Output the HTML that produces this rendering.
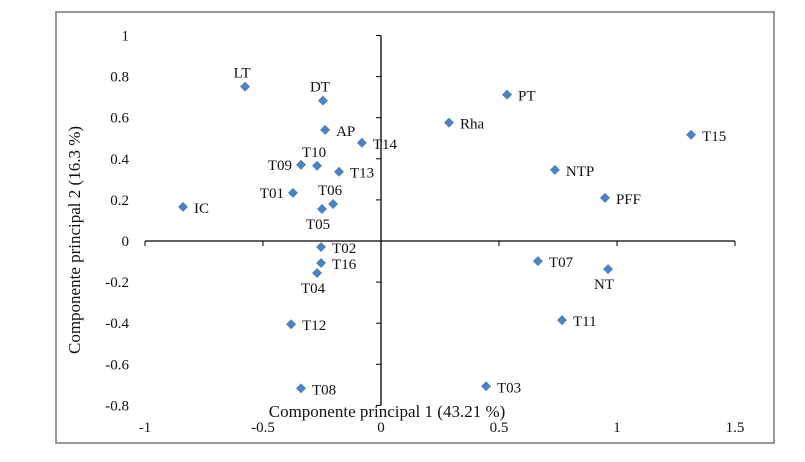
<!DOCTYPE html>
<html><head><meta charset="utf-8"><style>
body{margin:0;background:#fff;}
svg text{font-family:"Liberation Serif",serif;fill:#111;}
</style></head><body>
<svg id="chart" width="805" height="457" xmlns="http://www.w3.org/2000/svg">
<rect x="56" y="12" width="718" height="431" fill="none" stroke="#777" stroke-width="1.5"/>
<g id="axes"></g><g id="pts"></g>
<text x="387" y="417" font-size="17" text-anchor="middle">Componente principal 1 (43.21 %)</text>
<text transform="translate(80,240) rotate(-90)" font-size="17" text-anchor="middle">Componente principal  2 (16.3 %)</text>
</svg>
<script>
const labels=["LT","DT","AP","T14","PT","Rha","T15","T09","T10","T13","NTP","T01","T06","T05","IC","PFF","T02","T16","T04","T07","NT","T12","T11","T08","T03"];
const xVals=[-0.576,-0.246,-0.237,-0.081,0.534,0.288,1.314,-0.339,-0.271,-0.178,0.737,-0.373,-0.203,-0.25,-0.839,0.949,-0.254,-0.254,-0.271,0.665,0.962,-0.381,0.767,-0.339,0.445];
const yVals=[0.751,0.683,0.541,0.478,0.712,0.576,0.517,0.371,0.366,0.337,0.346,0.234,0.180,0.156,0.166,0.210,-0.029,-0.107,-0.156,-0.098,-0.137,-0.405,-0.385,-0.717,-0.707];
const labelPos=["above","above","right","right","right","right","right","left","above","right","right","left","above","below","right","right","right","right","below","right","below","right","right","right","right"];
const xTicks=[-1,-0.5,0,0.5,1,1.5];
const xTickLabels=["-1","-0.5","0","0.5","1","1.5"];
const yTicks=[1,0.8,0.6,0.4,0.2,0,-0.2,-0.4,-0.6,-0.8];
const yTickLabels=["1","0.8","0.6","0.4","0.2","0","-0.2","-0.4","-0.6","-0.8"];
const NS="http://www.w3.org/2000/svg";
const sx=v=>381+v*236, sy=v=>241-v*205.5;
const axes=document.getElementById('axes'), pts=document.getElementById('pts');
function mk(t,a,p){const e=document.createElementNS(NS,t);for(const k in a)e.setAttribute(k,a[k]);p.appendChild(e);return e;}
let l=mk('line',{x1:sx(-1),x2:sx(1.5),y1:sy(0),y2:sy(0),stroke:'#000','stroke-width':1.3},axes);


l=mk('line',{x1:sx(0),x2:sx(0),y1:sy(1),y2:sy(-0.8),stroke:'#000','stroke-width':1.3},axes);


xTicks.forEach((v,i)=>{
 const t=mk('line',{x1:sx(v),x2:sx(v),y1:sy(0),y2:sy(0)+5,stroke:'#000'},axes);
 
 
 const tx=mk('text',{x:sx(v),y:432,'font-size':15,'text-anchor':'middle'},axes);tx.textContent=xTickLabels[i];
 
 
});
yTicks.forEach((v,i)=>{
 const t=mk('line',{x1:sx(0)-5,x2:sx(0),y1:sy(v),y2:sy(v),stroke:'#000'},axes);
 
 
 const tx=mk('text',{x:129,y:sy(v)+5,'font-size':15,'text-anchor':'end'},axes);tx.textContent=yTickLabels[i];
 
 
});
labels.forEach((lb,i)=>{
 const x=sx(xVals[i]),y=sy(yVals[i]);
 const d=mk('polygon',{points:`${x},${y-5} ${x+5},${y} ${x},${y+5} ${x-5},${y}`,fill:'#4f81bd'},pts);
 
 
 let a={'font-size':15};const p=labelPos[i];
 if(p==='right'){a.x=x+11;a.y=y+6;}
 else if(p==='left'){a.x=x-9;a.y=y+5;a['text-anchor']='end';}
 else if(p==='above'){a.x=x-3;a.y=y-9;a['text-anchor']='middle';}
 else {a.x=x-4;a.y=y+20;a['text-anchor']='middle';}
 const t=mk('text',a,pts);t.textContent=lb;
 
 
});
</script>
</body></html>
